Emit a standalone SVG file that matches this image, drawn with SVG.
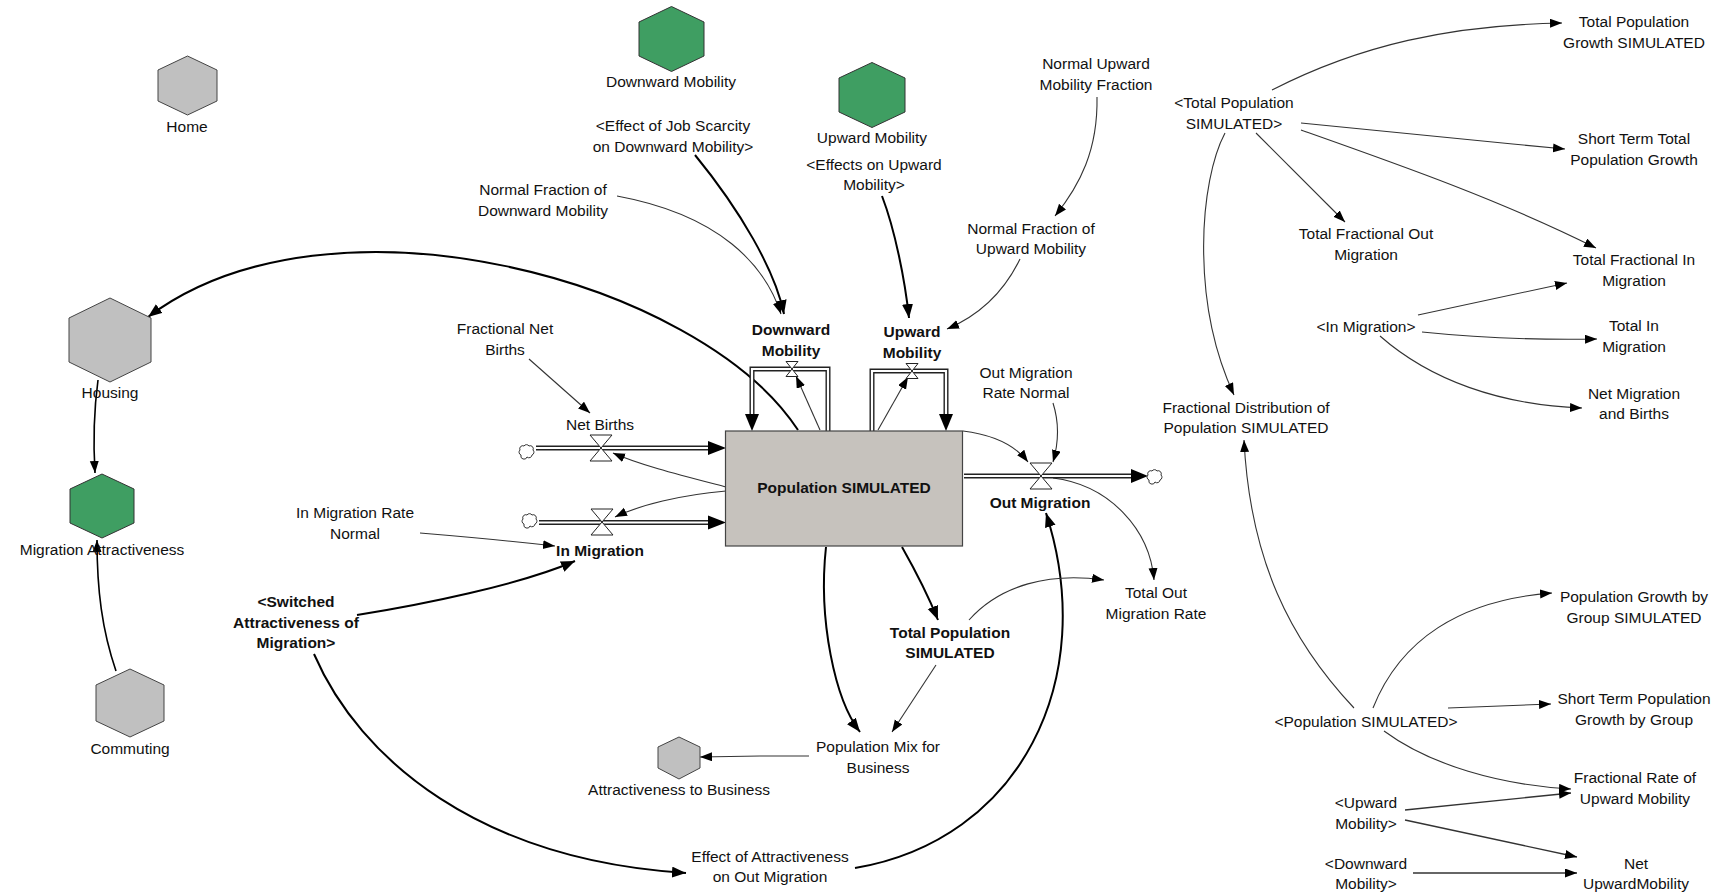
<svg xmlns="http://www.w3.org/2000/svg" width="1720" height="895" viewBox="0 0 1720 895">
<style>
text{font-family:"Liberation Sans",Arial,sans-serif;font-size:15.5px;fill:#111;text-anchor:middle}
.b{font-weight:bold}
.hg{fill:#c0c0c0;stroke:#444;stroke-width:1}
.hgr{fill:#3f9e62;stroke:#333;stroke-width:1}
.c{fill:none;stroke:#333;stroke-width:1.1}
.k{fill:none;stroke:#000;stroke-width:2}
.pipe{fill:none;stroke:#222;stroke-width:5}
.pin{fill:none;stroke:#fff;stroke-width:2.2}
.ph{fill:#000}
.valve{fill:#fff;stroke:#222;stroke-width:1}
.cloud{fill:#fff;stroke:#333;stroke-width:1}
</style>
<defs>
<marker id="a" markerUnits="userSpaceOnUse" markerWidth="13" markerHeight="10" refX="12" refY="4.5" orient="auto"><path d="M0,0 L12,4.5 L0,9 z" fill="#000"/></marker>
<marker id="ab" markerUnits="userSpaceOnUse" markerWidth="15" markerHeight="12" refX="14" refY="5.5" orient="auto"><path d="M0,0 L14,5.5 L0,11 z" fill="#000"/></marker>
<path id="cloud" d="M-6,3 a3,3 0 0 1 -1,-5 a3,3 0 0 1 4,-4 a3,3 0 0 1 5,0 a3,3 0 0 1 4,4 a3,3 0 0 1 -1,5 a3,3 0 0 1 -5,2 a3,3 0 0 1 -6,-2 z"/>
<path id="valve" d="M-11,-13 L11,-13 L-11,13 L11,13 Z"/>
<path id="svalve" d="M-6,-7.5 L6,-7.5 L-6,7.5 L6,7.5 Z"/>
</defs>
<rect width="1720" height="895" fill="#fff"/>

<g id="connectors">
<path class="k" d="M798,430 C700,280 330,180 148,317" marker-end="url(#ab)"/>
<path class="k" style="stroke-width:1.6" d="M98,380 C94,410 93,440 95,473" marker-end="url(#a)"/>
<path class="k" style="stroke-width:1.6" d="M116,671 C102,630 97,590 97,540" marker-end="url(#a)"/>
<path class="c" d="M617,196 C720,215 765,265 781,314" marker-end="url(#a)"/>
<path class="k" d="M695,155 C740,210 775,270 784,314" marker-end="url(#ab)"/>
<path class="k" d="M882,196 C895,230 905,280 909,318" marker-end="url(#ab)"/>
<path class="c" d="M1020,259 C1005,290 980,315 947,329" marker-end="url(#a)"/>
<path class="c" d="M1097,97 C1098,150 1080,185 1055,216" marker-end="url(#a)"/>
<path class="c" d="M820,430 L796,376" marker-end="url(#a)"/>
<path class="c" d="M878,430 L908,377" marker-end="url(#a)"/>
<path class="c" d="M529,359 L590,413" marker-end="url(#a)"/>
<path class="c" d="M726,487 C680,475 640,465 613,453" marker-end="url(#a)"/>
<path class="c" d="M726,491 C680,495 640,505 615,517" marker-end="url(#a)"/>
<path class="c" d="M420,533 C480,538 520,542 555,546" marker-end="url(#a)"/>
<path class="k" d="M357,615 C420,605 520,585 575,561" marker-end="url(#ab)"/>
<path class="k" d="M314,654 C360,760 480,860 686,873" marker-end="url(#ab)"/>
<path class="k" d="M855,868 C1020,840 1100,680 1046,513" marker-end="url(#ab)"/>
<path class="c" d="M963,431 C995,435 1015,445 1028,462" marker-end="url(#a)"/>
<path class="c" d="M1053,403 C1060,425 1058,445 1053,462" marker-end="url(#a)"/>
<path class="c" d="M1053,478 C1110,485 1150,530 1154,580" marker-end="url(#a)"/>
<path class="k" d="M902,547 C915,570 928,595 938,620" marker-end="url(#ab)"/>
<path class="k" d="M826,547 C818,620 835,700 860,732" marker-end="url(#ab)"/>
<path class="c" d="M936,665 L892,732" marker-end="url(#a)"/>
<path class="c" d="M809,756 L760,756 L700,757" marker-end="url(#a)"/>
<path class="c" d="M969,620 C1000,585 1050,572 1104,580" marker-end="url(#a)"/>
<path class="c" d="M1272,90 C1360,45 1450,25 1562,23" marker-end="url(#a)"/>
<path class="c" d="M1301,123 C1400,133 1480,141 1565,149" marker-end="url(#a)"/>
<path class="c" d="M1256,133 L1345,222" marker-end="url(#a)"/>
<path class="c" d="M1301,130 C1400,165 1500,200 1596,248" marker-end="url(#a)"/>
<path class="c" d="M1225,133 C1200,180 1190,300 1234,395" marker-end="url(#a)"/>
<path class="c" d="M1418,315 L1567,283" marker-end="url(#a)"/>
<path class="c" d="M1422,332 C1480,338 1540,340 1597,339" marker-end="url(#a)"/>
<path class="c" d="M1380,336 C1430,380 1500,405 1582,408" marker-end="url(#a)"/>
<path class="c" d="M1354,708 C1290,640 1250,560 1244,440" marker-end="url(#a)"/>
<path class="c" d="M1373,708 C1400,640 1460,600 1552,593" marker-end="url(#a)"/>
<path class="c" d="M1448,708 L1551,704" marker-end="url(#a)"/>
<path class="c" d="M1384,731 C1430,765 1500,785 1571,789" marker-end="url(#a)"/>
<path class="c" style="stroke-width:1.4" d="M1405,810 L1571,793" marker-end="url(#a)"/>
<path class="c" style="stroke-width:1.4" d="M1405,820 L1577,857" marker-end="url(#a)"/>
<path class="c" style="stroke-width:1.4" d="M1413,873 L1577,873" marker-end="url(#a)"/>
</g>

<g id="flows">
<path class="pipe" d="M536,448 H710"/><path class="pin" d="M534,448 H712"/>
<polygon class="ph" points="708,441 726,448 708,455"/>
<path class="pipe" d="M539,522.5 H710"/><path class="pin" d="M537,522.5 H712"/>
<polygon class="ph" points="708,515.5 726,522.5 708,529.5"/>
<path class="pipe" d="M964,476 H1133"/><path class="pin" d="M962,476 H1135"/>
<polygon class="ph" points="1131,469 1148,476 1131,483"/>
<path class="pipe" d="M828,431 V369 H752 V416"/><path class="pin" d="M828,433 V369 H752 V418"/>
<polygon class="ph" points="745,414 759,414 752,431"/>
<path class="pipe" d="M872,431 V371 H946 V416"/><path class="pin" d="M872,433 V371 H946 V418"/>
<polygon class="ph" points="939,414 953,414 946,431"/>
<use href="#cloud" class="cloud" x="527" y="452"/>
<use href="#cloud" class="cloud" x="530" y="521"/>
<use href="#cloud" class="cloud" x="1155" y="477"/>
</g>

<g id="stock-population"><rect x="725.5" y="431" width="237" height="115" fill="#c6c2bd" stroke="#444" stroke-width="1.2"/><text class="b" x="844" y="493">Population SIMULATED</text></g>
<g id="flow-net-births"><use href="#valve" class="valve" x="601" y="448"/><text x="600" y="430">Net Births</text></g>
<g id="flow-in-migration"><use href="#valve" class="valve" x="602" y="522"/><text class="b" x="600" y="555.5">In Migration</text></g>
<g id="flow-out-migration"><use href="#valve" class="valve" x="1041" y="476"/><text class="b" x="1040" y="507.5">Out Migration</text></g>
<g id="flow-downward"><use href="#svalve" class="valve" x="792" y="369"/><text class="b" x="791" y="334.5">Downward</text><text class="b" x="791" y="355.5">Mobility</text></g>
<g id="flow-upward"><use href="#svalve" class="valve" x="912" y="371"/><text class="b" x="912" y="337">Upward</text><text class="b" x="912" y="357.5">Mobility</text></g>

<g id="hex-home"><polygon class="hg" points="187.5,56 217,70 217,101 187.5,115 158,101 158,70"/><text x="187" y="131.5">Home</text></g>
<g id="hex-downward"><polygon class="hgr" points="671.5,6.5 704,22 704,56 671.5,71.5 639,56 639,22"/><text x="671" y="87">Downward Mobility</text></g>
<g id="hex-upward"><polygon class="hgr" points="872,62.5 905,78 905,112 872,127.5 839,112 839,78"/><text x="872" y="142.5">Upward Mobility</text></g>
<g id="hex-housing"><polygon class="hg" points="110,298 151,318 151,362 110,382 69,362 69,318"/><text x="110" y="398">Housing</text></g>
<g id="hex-migration-attr"><polygon class="hgr" points="102,474 134,489 134,523 102,538 70,523 70,489"/><text x="102" y="554.5">Migration Attractiveness</text></g>
<g id="hex-commuting"><polygon class="hg" points="130,669 164,685 164,721 130,737 96,721 96,685"/><text x="130" y="753.5">Commuting</text></g>
<g id="hex-attr-business"><polygon class="hg" points="679,737 700,747 700,768 679,779 658,768 658,747"/><text x="679" y="794.5">Attractiveness to Business</text></g>

<g id="n-effect-job"><text x="673" y="130.5">&lt;Effect of Job Scarcity</text><text x="673" y="151.5">on Downward Mobility&gt;</text></g>
<g id="n-effects-upward"><text x="874" y="169.5">&lt;Effects on Upward</text><text x="874" y="189.5">Mobility&gt;</text></g>
<g id="n-normal-upward-frac"><text x="1096" y="68.5">Normal Upward</text><text x="1096" y="89.5">Mobility Fraction</text></g>
<g id="n-nf-downward"><text x="543" y="194.5">Normal Fraction of</text><text x="543" y="215.5">Downward Mobility</text></g>
<g id="n-nf-upward"><text x="1031" y="233.5">Normal Fraction of</text><text x="1031" y="253.5">Upward Mobility</text></g>
<g id="n-frac-net-births"><text x="505" y="333.5">Fractional Net</text><text x="505" y="354.5">Births</text></g>
<g id="n-in-mig-rate"><text x="355" y="517.5">In Migration Rate</text><text x="355" y="538.5">Normal</text></g>
<g id="n-out-mig-rate"><text x="1026" y="377.5">Out Migration</text><text x="1026" y="397.5">Rate Normal</text></g>
<g id="n-total-out-rate"><text x="1156" y="597.5">Total Out</text><text x="1156" y="618.5">Migration Rate</text></g>
<g id="n-total-pop"><text class="b" x="950" y="637.5">Total Population</text><text class="b" x="950" y="657.5">SIMULATED</text></g>
<g id="n-pop-mix"><text x="878" y="751.5">Population Mix for</text><text x="878" y="772.5">Business</text></g>
<g id="n-effect-attr"><text x="770" y="861.5">Effect of Attractiveness</text><text x="770" y="881.5">on Out Migration</text></g>
<g id="n-switched"><text class="b" x="296" y="606.5">&lt;Switched</text><text class="b" x="296" y="627.5">Attractiveness of</text><text class="b" x="296" y="647.5">Migration&gt;</text></g>

<g id="n-total-pop-sim-shadow"><text x="1234" y="107.5">&lt;Total Population</text><text x="1234" y="128.5">SIMULATED&gt;</text></g>
<g id="n-total-pop-growth"><text x="1634" y="26.5">Total Population</text><text x="1634" y="47.5">Growth SIMULATED</text></g>
<g id="n-short-term-total"><text x="1634" y="143.5">Short Term Total</text><text x="1634" y="164.5">Population Growth</text></g>
<g id="n-total-frac-out"><text x="1366" y="238.5">Total Fractional Out</text><text x="1366" y="259.5">Migration</text></g>
<g id="n-total-frac-in"><text x="1634" y="264.5">Total Fractional In</text><text x="1634" y="285.5">Migration</text></g>
<g id="n-in-mig-shadow"><text x="1366" y="331.5">&lt;In Migration&gt;</text></g>
<g id="n-total-in"><text x="1634" y="330.5">Total In</text><text x="1634" y="351.5">Migration</text></g>
<g id="n-net-mig-births"><text x="1634" y="398.5">Net Migration</text><text x="1634" y="418.5">and Births</text></g>
<g id="n-frac-dist"><text x="1246" y="412.5">Fractional Distribution of</text><text x="1246" y="432.5">Population SIMULATED</text></g>
<g id="n-pop-growth-group"><text x="1634" y="601.5">Population Growth by</text><text x="1634" y="622.5">Group SIMULATED</text></g>
<g id="n-pop-sim-shadow"><text x="1366" y="726.5">&lt;Population SIMULATED&gt;</text></g>
<g id="n-short-term-group"><text x="1634" y="703.5">Short Term Population</text><text x="1634" y="724.5">Growth by Group</text></g>
<g id="n-frac-rate-up"><text x="1635" y="782.5">Fractional Rate of</text><text x="1635" y="803.5">Upward Mobility</text></g>
<g id="n-upward-shadow"><text x="1366" y="807.5">&lt;Upward</text><text x="1366" y="828.5">Mobility&gt;</text></g>
<g id="n-downward-shadow"><text x="1366" y="868.5">&lt;Downward</text><text x="1366" y="888.5">Mobility&gt;</text></g>
<g id="n-net-upward"><text x="1636" y="868.5">Net</text><text x="1636" y="888.5">UpwardMobility</text></g>
</svg>
